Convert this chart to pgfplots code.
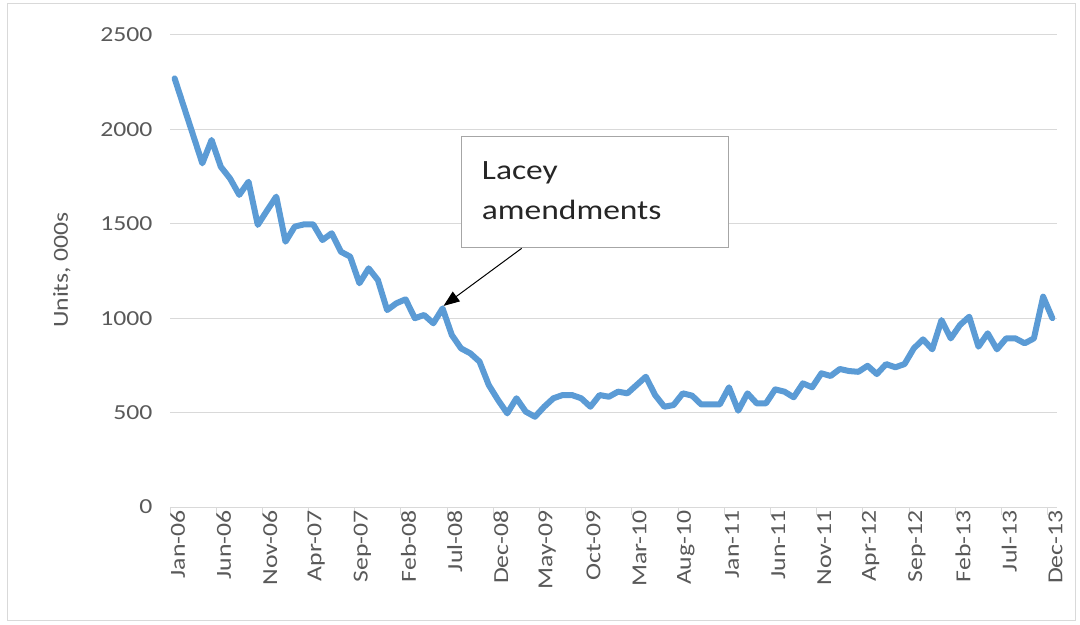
\documentclass[border=0pt]{standalone}
\usepackage{pgfplots}
\pgfplotsset{compat=1.18}
\usepackage{pgfplotstable}
\usetikzlibrary{arrows.meta}
\usepackage{fontspec}
\setmainfont{Carlito}[FakeStretch=1.2]
\definecolor{xlblue}{HTML}{5B9BD5}
\definecolor{gridgray}{HTML}{D9D9D9}
\definecolor{labgray}{HTML}{595959}
\definecolor{boxgray}{HTML}{A6A6A6}
\definecolor{txtdark}{HTML}{262626}
\pgfplotstableread{
i v
0 2270
1 2120
2 1970
3 1820
4 1944
5 1802
6 1740
7 1653
8 1723
9 1494
10 1570
11 1644
12 1405
13 1485
14 1497
15 1497
16 1414
17 1450
18 1352
19 1326
20 1185
21 1264
22 1202
23 1043
24 1079
25 1100
26 1000
27 1017
28 973
29 1052
30 911
31 840
32 814
33 770
34 646
35 567
36 496
37 576
38 505
39 478
40 531
41 576
42 593
43 593
44 576
45 531
46 593
47 584
48 611
49 602
50 646
51 690
52 593
53 531
54 540
55 602
56 590
57 543
58 543
59 543
60 634
61 510
62 602
63 549
64 549
65 623
66 611
67 581
68 655
69 634
70 708
71 694
72 731
73 720
74 716
75 748
76 704
77 757
78 740
79 757
80 840
81 888
82 835
83 990
84 893
85 964
86 1008
87 849
88 920
89 835
90 893
91 893
92 867
93 893
94 1114
95 1000
}\datatable
\begin{document}
\begin{tikzpicture}
\useasboundingbox (0,0) rectangle (1080bp,625bp);
\draw[gridgray, line width=1bp] (7bp,4bp) rectangle (1075bp,621bp);
\begin{axis}[
  at={(170bp,118bp)}, anchor=south west,
  scale only axis, width=887bp, height=472bp,
  xmin=-0.5, xmax=95.5, ymin=0, ymax=2500,
  ytick={0,500,...,2500},
  xtick={0,5,...,95},
  xticklabels={Jan-06,Jun-06,Nov-06,Apr-07,Sep-07,Feb-08,Jul-08,Dec-08,May-09,Oct-09,Mar-10,Aug-10,Jan-11,Jun-11,Nov-11,Apr-12,Sep-12,Feb-13,Jul-13,Dec-13},
  minor xtick={-0.5,4.5,...,94.5},
  major tick length=0pt,
  minor tick length=8bp,
  tick align=outside,
  minor tick style={gridgray, line width=1bp},
  axis x line*=bottom,
  axis y line*=left,
  x axis line style={gridgray, line width=1bp},
  y axis line style={draw=none},
  ymajorgrids,
  grid style={gridgray, line width=1bp},
  /pgf/number format/assume math mode=true,
  /pgf/number format/1000 sep={},
  tick label style={font=\fontsize{21.5}{26}\selectfont, text=labgray},
  yticklabel style={anchor=east, xshift=-14bp},
  xticklabel style={rotate=90, anchor=east, xshift=0bp, yshift=-3bp},
  clip=false,
]
\addplot[xlblue, line width=6bp, line join=round, line cap=round] table[x=i, y=v] {\datatable};
\fill[white, draw=boxgray, line width=1bp] (axis cs:31,1960) rectangle (axis cs:59.9,1372);
\node[anchor=base west, inner sep=0pt, text=txtdark, font=\fontsize{28}{34}\selectfont] at (axis cs:33.24,1732) {Lacey};
\node[anchor=base west, inner sep=0pt, text=txtdark, font=\fontsize{28}{34}\selectfont] at (axis cs:33.24,1525) {amendments};
\draw[black, line width=1bp, -{Triangle[length=16bp,width=12bp]}] (axis cs:37.56,1370) -- (axis cs:29.1,1065);
\end{axis}
\node[rotate=90, text=labgray, font=\fontsize{21.5}{26}\selectfont] at (62bp,355bp) {Units, 000s};
\end{tikzpicture}
\end{document}
